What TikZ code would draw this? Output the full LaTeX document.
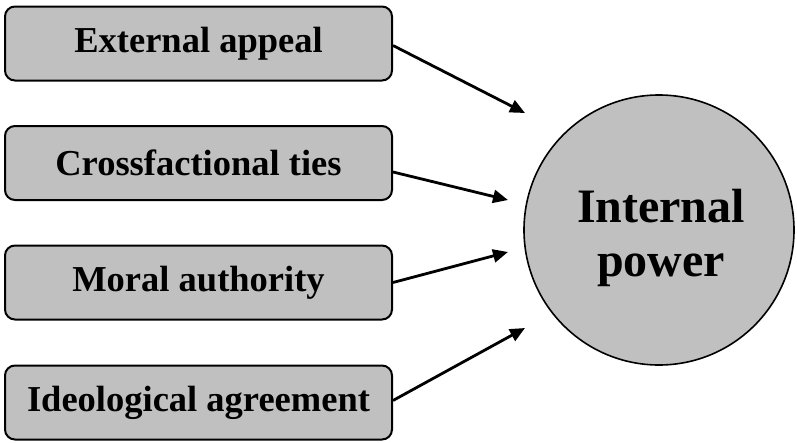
\documentclass[tikz,border=0pt]{standalone}
\usepackage{fontspec}
\setmainfont{Liberation Serif}
\usetikzlibrary{arrows.meta}
\definecolor{boxgray}{RGB}{192,192,192}
\tikzset{
  factor/.style={draw=black, line width=2pt, fill=boxgray, rounded corners=10pt,
    minimum width=387pt, minimum height=74pt, inner sep=0pt,
    font=\fontsize{36.5}{40}\selectfont\bfseries},
  hub/.style={draw=black, line width=1.6pt, fill=boxgray, circle, minimum size=270pt,
    inner sep=0pt},
  hubtext/.style={align=center, inner sep=0pt, font=\fontsize{48}{54}\selectfont\bfseries},
  link/.style={line width=2.8pt, -{Triangle[length=15pt,width=13pt]}}
}
\begin{document}
\begin{tikzpicture}[x=1pt,y=-1pt]
\useasboundingbox (0,0) rectangle (797,442);
\node[factor] (b1) at (198.5,43.5) {External appeal};
\node[factor] (b2) at (198.5,163) {Crossfactional ties};
\node[factor] (b3) at (198.5,282.5) {Moral authority};
\node[factor] (b4) at (198.5,402.5) {Ideological agreement};
\node[hub] (c) at (659,230) {};
\node[hubtext] (ct) at (661,238) {Internal\\power};
\coordinate (t1) at (525,113);
\coordinate (t2) at (508,200);
\coordinate (t3) at (508,252);
\coordinate (t4) at (525,328);
\draw[link] ([yshift=-2pt]b1.east) -- (t1);
\draw[link] ([yshift=-9pt]b2.east) -- (t2);
\draw[link] ([yshift=0pt]b3.east) -- (t3);
\draw[link] ([yshift=2pt]b4.east) -- (t4);
\end{tikzpicture}
\end{document}
